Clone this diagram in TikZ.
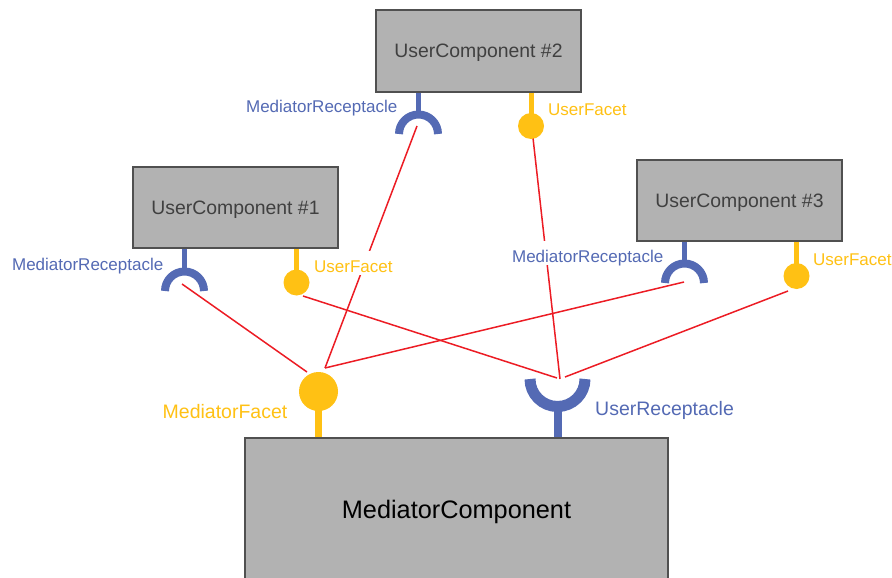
\documentclass[tikz,border=0pt]{standalone}
\usepackage{fontspec}
\setmainfont{Liberation Sans}
\definecolor{portblue}{RGB}{84,106,180}
\definecolor{portyellow}{RGB}{255,193,20}
\definecolor{wirered}{RGB}{236,28,36}
\definecolor{boxfill}{RGB}{178,178,178}
\definecolor{boxline}{RGB}{80,80,80}
\definecolor{boxtext}{RGB}{64,64,64}
\begin{document}
\begin{tikzpicture}[x=1pt,y=-1pt,
  comp/.style={draw=boxline, line width=1.5pt, fill=boxfill, minimum width=205pt,
    minimum height=81pt, inner sep=0pt, text depth=0pt, text=boxtext,
    font=\fontsize{19.4}{22}\selectfont},
  lbl/.style={fill=white, inner xsep=1pt, inner ysep=0pt, text height=21pt,
    text depth=3pt, font=\fontsize{17}{20}\selectfont},
  biglbl/.style={lbl, font=\fontsize{19.5}{23}\selectfont},
  facet/.style={circle, fill=portyellow, inner sep=0pt, minimum size=26pt},
  bigfacet/.style={facet, minimum size=39pt},
  ystem/.style={draw=portyellow, line width=5pt},
  bstem/.style={draw=portblue, line width=5pt},
  recep/.style={draw=portblue, line width=8pt},
  wire/.style={draw=wirered, line width=1.5pt}]
\useasboundingbox (0,0) rectangle (892,578);
\clip (0,0) rectangle (892,578);

% wire end points
\coordinate (w-r1) at (182,284);
\coordinate (w-r2) at (417,126);
\coordinate (w-r3) at (684,282);
\coordinate (w-f1) at (303,296);
\coordinate (w-f2) at (533,138);
\coordinate (w-f3) at (788,291);
\coordinate (mf-l) at (307,372);
\coordinate (mf-r) at (325,368);
\coordinate (ur-l) at (557,378);
\coordinate (ur-m) at (560,379);
\coordinate (ur-r) at (565,377);

% connections
\draw[wire] (w-r1) -- (mf-l);
\draw[wire] (w-r2) -- (mf-r);
\draw[wire] (w-r3) -- (mf-r);
\draw[wire] (w-f1) -- (ur-l);
\draw[wire] (w-f2) -- (ur-m);
\draw[wire] (w-f3) -- (ur-r);

% port labels, on white so that wires passing behind them are hidden
\node[lbl, text=portblue, anchor=base east] (lr1) at (164.5,270.4) {MediatorReceptacle};
\node[lbl, text=portyellow, anchor=base west] (lf1) at (313,272.1) {UserFacet};
\node[lbl, text=portblue, anchor=base east] (lr2) at (398.5,112.4) {MediatorReceptacle};
\node[lbl, text=portyellow, anchor=base west] (lf2) at (547,115.1) {UserFacet};
\node[lbl, text=portblue, anchor=base east] (lr3) at (664.5,262.4) {MediatorReceptacle};
\node[lbl, text=portyellow, anchor=base west] (lf3) at (812,265.1) {UserFacet};
\node[biglbl, text=portyellow, anchor=base east] (lmf) at (288.5,418.1) {MediatorFacet};
\node[biglbl, text=portblue, anchor=base west] (lur) at (594,415) {UserReceptacle};

% components
\node[comp, minimum height=82pt] (uc2) at (478.5,51) {UserComponent \#2};
\node[comp] (uc1) at (235.5,207.5) {UserComponent \#1};
\node[comp] (uc3) at (739.5,200.5) {UserComponent \#3};
\node[comp, minimum width=423pt, minimum height=142pt, text=black,
  font=\fontsize{25.3}{30}\selectfont] (med) at (456.5,509) {MediatorComponent};

% receptacle centres and facets of the user components
\coordinate (r1c) at (184.5,291);
\coordinate (r2c) at (418.5,134);
\coordinate (r3c) at (684.5,283);
\coordinate (f1c) at (296.5,282.5);
\coordinate (f2c) at (531,126);
\coordinate (f3c) at (796.5,276);

\foreach \r/\c in {r1c/uc1, r2c/uc2, r3c/uc3}{
  \draw[bstem] (\c.south -| \r) -- ([yshift=20pt]\r);
  \draw[recep] ([xshift=-19.5pt]\r) arc[start angle=180, end angle=0, radius=19.5pt];
}
\foreach \f/\c in {f1c/uc1, f2c/uc2, f3c/uc3}{
  \draw[ystem] (\c.south -| \f) -- (\f);
}
\node[facet] (f1) at (f1c) {};
\node[facet] (f2) at (f2c) {};
\node[facet] (f3) at (f3c) {};

% ports of the mediator
\coordinate (mfc) at (318.5,391.5);
\coordinate (urc) at (557.5,379);
\draw[ystem, line width=7pt] (med.north -| mfc) -- (mfc);
\node[bigfacet] (mf) at (mfc) {};
\draw[bstem, line width=8pt] (med.north -| urc) -- ([yshift=-27pt]urc);
\draw[recep, line width=11pt] ([xshift=-27.5pt]urc) arc[start angle=180, end angle=360, radius=27.5pt];
\end{tikzpicture}
\end{document}
